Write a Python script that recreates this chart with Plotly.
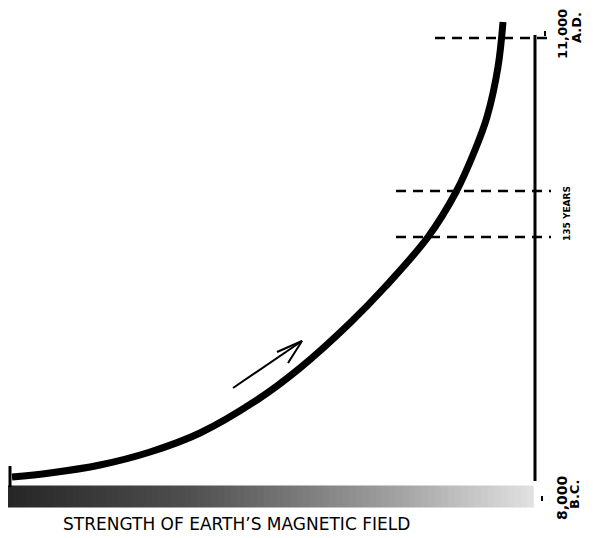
import numpy as np
import plotly.graph_objects as go

# Schematic diagram units (horizontal: field strength, vertical: time, top = later)
curve_x = [12, 50, 100, 150, 200, 257, 300, 350, 385, 428, 456, 475, 487, 498, 503]
curve_y = [477, 473, 465, 452, 433, 400, 368, 323, 287, 237, 192, 150, 117, 67, 22]

time_axis_x = [535, 535]
time_axis_y = [35, 481]

dash_levels = [38, 191, 237]
dash_starts = [435, 396, 396]
dash_end = 551

arrow_shaft_x = [233, 302]
arrow_shaft_y = [388, 341]
arrow_head_x = [277, 302, 288]
arrow_head_y = [352, 341, 363]

bar_x0, bar_x1 = 10, 530
bar_levels = np.linspace(0, 1, 80)

fig = go.Figure()

# gradient bar
bx = np.linspace(bar_x0, bar_x1, len(bar_levels))
fig.add_trace(go.Heatmap(
    x=bx, y=[491, 502], z=[bar_levels, bar_levels],
    colorscale=[[0, "#262626"], [0.35, "#505050"], [0.7, "#989898"], [1, "#e0e0e0"]],
    showscale=False, hoverinfo="skip"))

# dashed lines
for lvl, x0 in zip(dash_levels, dash_starts):
    fig.add_trace(go.Scatter(x=[x0, dash_end], y=[lvl, lvl], mode="lines",
                             line=dict(color="black", width=2.5, dash="10px,7px"),
                             hoverinfo="skip"))

# time axis
fig.add_trace(go.Scatter(x=time_axis_x, y=time_axis_y, mode="lines",
                         line=dict(color="black", width=3), hoverinfo="skip"))
# small ticks near labels
fig.add_trace(go.Scatter(x=[542, 542], y=[496, 501], mode="lines",
                         line=dict(color="black", width=2), hoverinfo="skip"))
fig.add_trace(go.Scatter(x=[545, 545], y=[31, 36], mode="lines",
                         line=dict(color="black", width=2), hoverinfo="skip"))
# left tick
fig.add_trace(go.Scatter(x=[10, 10], y=[466, 487], mode="lines",
                         line=dict(color="black", width=3), hoverinfo="skip"))

# main curve
fig.add_trace(go.Scatter(x=curve_x, y=curve_y, mode="lines",
                         line=dict(color="black", width=7, shape="spline", smoothing=1.0),
                         hoverinfo="skip"))

# arrow (open V head)
fig.add_trace(go.Scatter(x=arrow_shaft_x, y=arrow_shaft_y, mode="lines",
                         line=dict(color="black", width=2), hoverinfo="skip"))
fig.add_trace(go.Scatter(x=arrow_head_x, y=arrow_head_y, mode="lines",
                         line=dict(color="black", width=2), hoverinfo="skip"))

font_lbl = dict(family="DejaVu Sans", color="black")
fig.add_annotation(x=562, y=34, text="<b>11,000</b>", showarrow=False, textangle=-90,
                   font=dict(size=13, **font_lbl))
fig.add_annotation(x=576, y=28, text="<b>A.D.</b>", showarrow=False, textangle=-90,
                   font=dict(size=13, **font_lbl))
fig.add_annotation(x=567, y=214, text="<b>135 YEARS</b>", showarrow=False, textangle=-90,
                   font=dict(size=9, **font_lbl))
fig.add_annotation(x=562, y=498, text="<b>8,000</b>", showarrow=False, textangle=-90,
                   font=dict(size=14, **font_lbl))
fig.add_annotation(x=574, y=495, text="<b>B.C.</b>", showarrow=False, textangle=-90,
                   font=dict(size=13, **font_lbl))
fig.add_annotation(x=236, y=524, text="STRENGTH OF EARTH’S MAGNETIC FIELD", showarrow=False,
                   font=dict(size=17, **font_lbl))

# page body has an 8px margin: shift ranges so page pixel == diagram unit
fig.update_layout(
    width=585, height=530, margin=dict(l=0, r=0, t=0, b=0),
    paper_bgcolor="white", plot_bgcolor="white", showlegend=False,
    xaxis=dict(range=[8, 593], visible=False, fixedrange=True),
    yaxis=dict(range=[538, 8], visible=False, fixedrange=True),
)
fig.write_html("out.html")
